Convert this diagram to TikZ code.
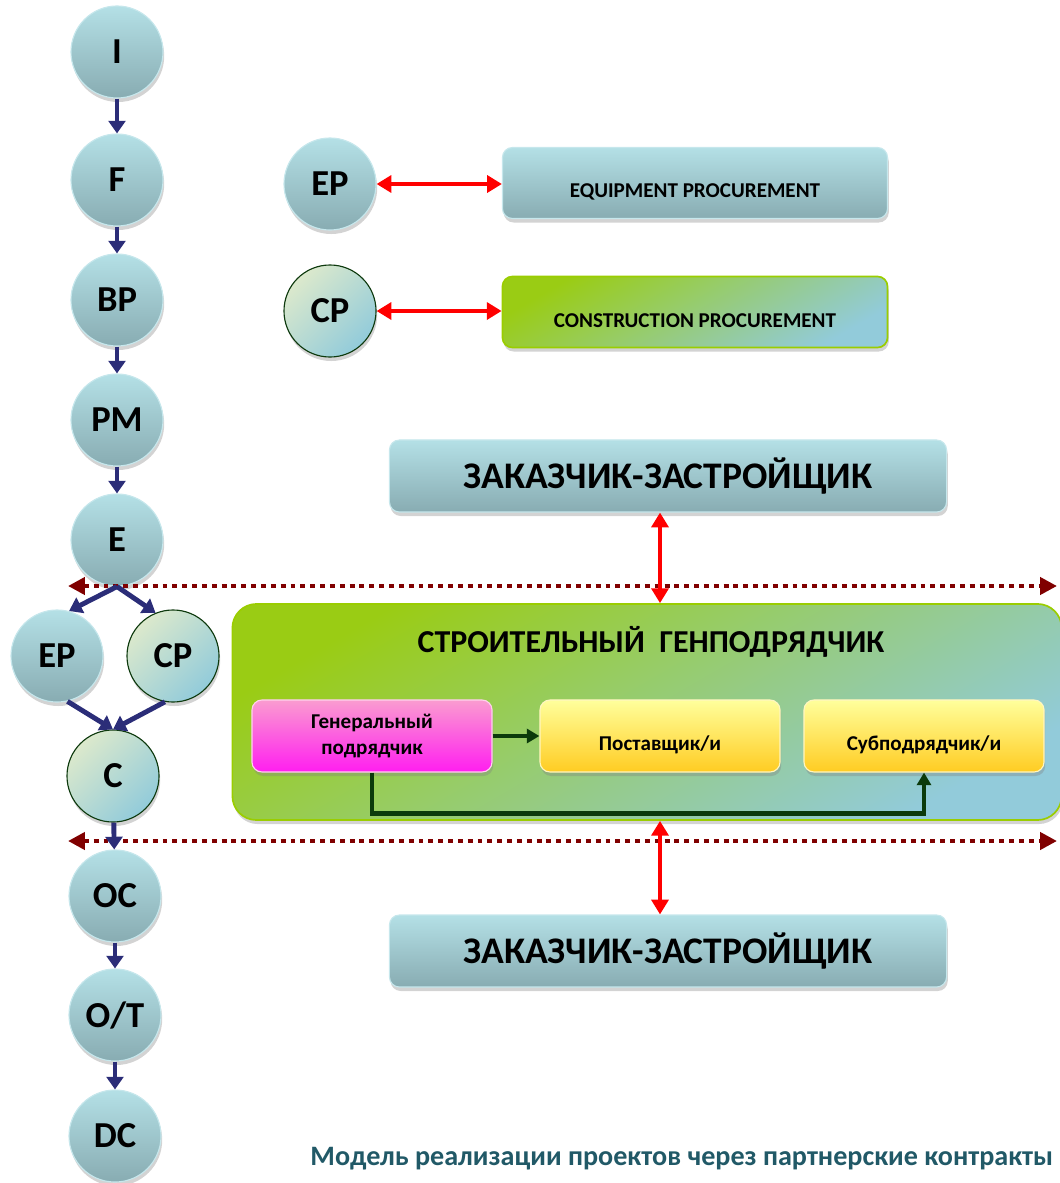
\documentclass[tikz,border=0pt]{standalone}
\usepackage{fontspec}
\setmainfont{Carlito}
\usetikzlibrary{arrows.meta, positioning, shadows}

\definecolor{tealtop}{HTML}{B4E0E6}
\definecolor{tealbot}{HTML}{88ACB2}
\definecolor{tealedge}{HTML}{C6E7EC}
\definecolor{greenlight}{HTML}{DCE9CC}
\definecolor{bluelight}{HTML}{92CBDA}
\definecolor{darkgreen}{HTML}{0E3A0E}
\definecolor{limetop}{HTML}{9ACC14}
\definecolor{limeedge}{HTML}{9ACD00}
\definecolor{pinktop}{HTML}{FA9CD0}
\definecolor{pinkbot}{HTML}{FF1EF0}
\definecolor{pinkedge}{HTML}{FFD2EC}
\definecolor{yellowtop}{HTML}{FFFF9C}
\definecolor{yellowbot}{HTML}{FFCC22}
\definecolor{yellowedge}{HTML}{FFF6C0}
\definecolor{navy}{HTML}{2B2D78}
\definecolor{darkred}{HTML}{800000}
\definecolor{arrowgreen}{HTML}{0B3A0B}
\definecolor{footer}{HTML}{215967}

\newcommand{\lowtext}[1]{\raisebox{-0.22cm}[\height][\depth]{#1}}

\begin{document}
\begin{tikzpicture}[
    x=0.025cm, y=-0.025cm,
    shade/.style={drop shadow={shadow xshift=0.03cm, shadow yshift=-0.1cm, opacity=0.35}},
    phase/.style={
        circle,
        draw=tealedge,
        line width=0.8pt,
        top color=tealtop,
        bottom color=tealbot,
        minimum size=2.3cm,
        inner sep=0pt,
        shade,
        font=\bfseries\fontsize{26}{30}\selectfont
    },
    buildphase/.style={
        phase,
        draw=darkgreen,
        top color=greenlight,
        bottom color=bluelight,
        shading angle=45
    },
    procbox/.style={
        rectangle,
        rounded corners=0.25cm,
        draw=tealedge,
        line width=0.8pt,
        top color=tealtop,
        bottom color=tealbot,
        minimum width=9.625cm,
        minimum height=1.775cm,
        shade,
        font=\bfseries\fontsize{15}{18}\selectfont
    },
    limebox/.style={
        procbox,
        draw=limeedge,
        line width=1.2pt,
        top color=limetop,
        bottom color=bluelight,
        shading angle=30
    },
    clientbox/.style={
        procbox,
        minimum width=13.925cm,
        minimum height=1.8cm,
        font=\bfseries\fontsize{26.7}{30}\selectfont
    },
    partybox/.style={
        rectangle,
        rounded corners=0.25cm,
        line width=0.8pt,
        minimum width=6cm,
        minimum height=1.8cm,
        align=center,
        shade,
        font=\bfseries\fontsize{15}{18.5}\selectfont
    },
    flow/.style={-{Triangle[width=12pt, length=9pt]}, line width=3.5pt, navy},
    link/.style={{Triangle[width=12pt, length=10.5pt]}-{Triangle[width=12pt, length=10.5pt]}, line width=3.5pt, red},
    border/.style={{Triangle[width=12pt, length=12pt]}-{Triangle[width=12pt, length=12pt]}, line width=3.5pt, darkred, dash pattern=on 3.5pt off 3.5pt},
    supply/.style={-{Triangle[width=10pt, length=9pt]}, line width=3pt, arrowgreen}
]
\useasboundingbox (0,0) rectangle (1059,1183);

% life cycle
\node[phase] (i) at (117,52) {I};
\node[phase] (f) at (117,180) {F};
\node[phase] (bp) at (117,300) {BP};
\node[phase] (pm) at (117,420) {PM};
\node[phase] (e) at (117,540) {E};
\node[phase] (ep) at (57,656) {EP};
\node[buildphase] (cp) at (173,656) {CP};
\node[buildphase] (c) at (113,776) {C};
\node[phase] (oc) at (115,896) {OC};
\node[phase] (ot) at (115,1015) {O/T};
\node[phase] (dc) at (115,1136) {DC};

% procurement
\node[procbox] (equip) at (695,183) {\lowtext{EQUIPMENT PROCUREMENT}};
\node[limebox] (constr) at (695,312) {\lowtext{CONSTRUCTION PROCUREMENT}};
\node[phase] (ep2) at (330,184) {EP};
\node[buildphase] (cp2) at (330,311) {CP};

% parties
\node[clientbox] (client1) at (668,476) {ЗАКАЗЧИК-ЗАСТРОЙЩИК};
\node[limebox, rounded corners=0.6cm, minimum width=20.725cm, minimum height=5.4cm] (gen) at (647,712) {};
\node[font=\bfseries\fontsize{22.7}{26}\selectfont] (gentitle) at (651,642) {СТРОИТЕЛЬНЫЙ\ \ ГЕНПОДРЯДЧИК};
\node[partybox, draw=pinkedge, top color=pinktop, bottom color=pinkbot] (gp) at (372,736) {Генеральный\\подрядчик};
\node[partybox, draw=yellowedge, top color=yellowtop, bottom color=yellowbot] (supp) at (660,736) {\lowtext{Поставщик/и}};
\node[partybox, draw=yellowedge, top color=yellowtop, bottom color=yellowbot] (sub) at (924,736) {\lowtext{Субподрядчик/и}};
\node[clientbox] (client2) at (668,951) {ЗАКАЗЧИК-ЗАСТРОЙЩИК};

\node[anchor=east, text=footer, font=\bfseries\fontsize{20}{24}\selectfont] (caption) at (1058,1159) {Модель реализации проектов через партнерские контракты};

% stage borders
\coordinate (b1l) at (68,586);
\coordinate (b1r) at (1057,586);
\coordinate (b2l) at (68,841);
\coordinate (b2r) at (1057,841);
\draw[border] (b1l) -- (b1r);
\draw[border] (b2l) -- (b2r);

\draw[flow] (i) -- (f);
\draw[flow] (f) -- (bp);
\draw[flow] (bp) -- (pm);
\draw[flow] (pm) -- (e);
\draw[flow] (e.south) -- (ep.75);
\draw[flow] (e.south) -- (cp.112);
\draw[flow] (ep.-77) -- (c.north);
\draw[flow] (cp.-100) -- (c.north);
\draw[flow] (c) -- (oc);
\draw[flow] (oc) -- (ot);
\draw[flow] (ot) -- (dc);

\draw[link] (ep2.east) -- (ep2.east -| equip.west);
\draw[link] (cp2.east) -- (cp2.east -| constr.west);
\draw[link] ([xshift=-0.2cm]client1.south) -- ([xshift=-0.2cm]client1.south |- gen.north);
\draw[link] ([xshift=-0.2cm]client2.north |- gen.south) -- ([xshift=-0.2cm]client2.north);

\draw[supply] (gp) -- (supp);
\draw[supply] (gp.south) -- ++(0,41) -| (sub.south);

\end{tikzpicture}
\end{document}
